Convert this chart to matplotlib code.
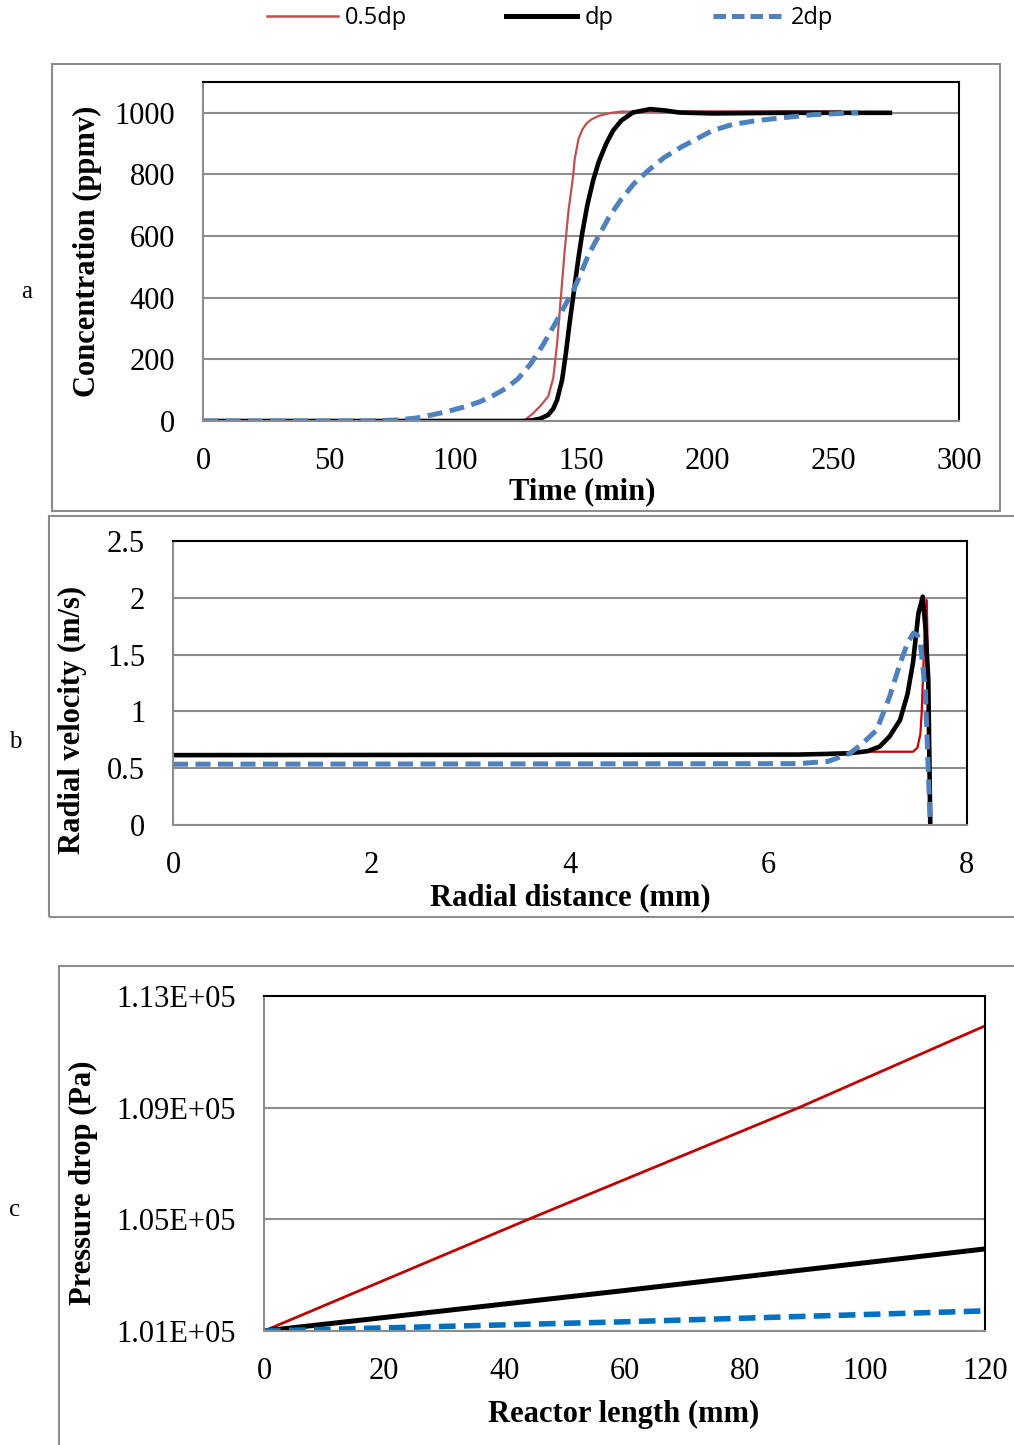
import numpy as np
import matplotlib
matplotlib.use("Agg")
import matplotlib.pyplot as plt
from matplotlib.patches import Rectangle
from matplotlib.lines import Line2D
from matplotlib.ticker import FuncFormatter

plt.rcParams['font.family'] = ['Liberation Serif', 'DejaVu Serif']

# ---- panel a: breakthrough curves
t_half = [0, 125, 128, 131, 134, 137, 139, 140.5, 142, 143.5, 145, 146.8, 147.5, 149,
          150.5, 152, 154, 157, 162, 166, 200, 253]
c_half = [0, 0, 5, 25, 50, 80, 140, 250, 400, 550, 680, 790, 850, 915,
          945, 964, 978, 990, 1000, 1004, 1005, 1005]
t_dp = [0, 128, 131, 134, 137, 139, 140.5, 142.5, 144, 145.5, 147, 149, 150.5, 152.5,
        154.8, 157, 160, 162.7, 166, 170.6, 177.4, 183, 189, 202, 230, 272.6]
c_dp = [0, 0, 3, 8, 20, 40, 68, 133, 220, 320, 410, 530, 610, 700,
        780, 840, 900, 942, 975, 1001, 1012, 1008, 1001, 998, 1000, 1000]
t_2dp = [0, 60, 70, 78, 85, 91, 98, 104.7, 110, 115, 120, 125, 130, 135, 140,
         144, 147, 150, 153, 157, 161, 166, 171, 177, 183, 190, 197, 202, 210, 220,
         230, 242, 250, 260]
c_2dp = [0, 0, 1, 4, 10, 20, 33, 48, 63, 82, 105, 137, 185, 248, 320,
         380, 425, 480, 540, 600, 660, 720, 770, 815, 855, 890, 920, 942, 962, 975,
         984, 994, 997, 1000]

# ---- panel b: radial velocity
r_half = [0, 6.3, 6.9, 7.456, 7.5, 7.53, 7.543, 7.565, 7.594, 7.61, 7.63]
v_half = [0.615, 0.62, 0.645, 0.645, 0.68, 0.8, 0.98, 1.5, 1.98, 1.3, 0]
r_dp = [0, 6.3, 6.8, 7.0, 7.12, 7.22, 7.325, 7.4, 7.456, 7.51, 7.554, 7.58, 7.61, 7.63]
v_dp = [0.615, 0.62, 0.63, 0.65, 0.69, 0.78, 0.924, 1.15, 1.43, 1.86, 2.01, 1.75, 1.28, 0]
r_2dp = [0, 6.3, 6.6, 6.82, 6.95, 7.09, 7.22, 7.325, 7.4, 7.46, 7.5, 7.53, 7.58, 7.63]
v_2dp = [0.535, 0.54, 0.56, 0.63, 0.72, 0.836, 1.13, 1.42, 1.6, 1.69, 1.67, 1.6, 1.19, 0]

# ---- panel c: pressure drop
L_half = [0, 44, 89, 120]
p_half = [101000, 105000, 109000, 111930]
L_dp = [0, 60, 120]
p_dp = [101000, 102450, 103940]
L_2dp = [0, 60, 120]
p_2dp = [101000, 101330, 101720]

W, H = 1014, 1445
fig = plt.figure(figsize=(W / 100, H / 100), dpi=100)


def fx(px):
    return px / W


def fy(py):
    return 1 - py / H


def frame(x0, y0, x1, y1):
    fig.patches.append(Rectangle((fx(x0), fy(y1)), fx(x1) - fx(x0), fy(y0) - fy(y1),
                                 transform=fig.transFigure, fill=False,
                                 edgecolor='#8c8c8c', lw=1.5))


def make_axes(l, t, r, b):
    ax = fig.add_axes([fx(l), fy(b), fx(r) - fx(l), fy(t) - fy(b)])
    for s in ['top', 'right']:
        ax.spines[s].set_color('black')
        ax.spines[s].set_linewidth(1.5)
    for s in ['left', 'bottom']:
        ax.spines[s].set_color('#8c8c8c')
        ax.spines[s].set_linewidth(1.5)
    ax.yaxis.grid(True, color='#8c8c8c', lw=1.5)
    ax.set_axisbelow(True)
    ax.tick_params(length=0, labelsize=22)
    ax.tick_params(axis='y', pad=20)
    ax.tick_params(axis='x', pad=19)
    return ax


frame(52, 64, 1000, 511)
frame(49, 516, 1016, 917)
frame(59, 966, 1016, 1447)

dash = (3, 1.5)

# panel a
ax1 = make_axes(203, 82, 959, 421)
ax1.plot(t_half, c_half, color='#c0504d', lw=1.6)
ax1.plot(t_dp, c_dp, color='black', lw=3.3)
ax1.plot(t_2dp, c_2dp, color='#4f81bd', lw=3.6, dashes=dash)
ax1.set_xlim(0, 300)
ax1.set_ylim(0, 1100)
ax1.set_xticks(np.arange(0, 301, 50))
ax1.set_yticks(np.arange(0, 1001, 200))
ax1.set_xlabel('Time (min)', fontsize=22, fontweight='bold', va='center')
ax1.xaxis.set_label_coords(0.501, -0.209)
ax1.set_ylabel('Concentration (ppmv)', fontsize=22, fontweight='bold', va='center')
ax1.yaxis.set_label_coords(-0.153, 0.5)

# panel b
ax2 = make_axes(173, 541, 967, 825)
ax2.plot(r_half, v_half, color='#cc0000', lw=1.6)
ax2.plot(r_dp, v_dp, color='black', lw=3.3)
ax2.plot(r_2dp, v_2dp, color='#4f81bd', lw=3.6, dashes=dash)
ax2.set_xlim(0, 8)
ax2.set_ylim(0, 2.5)
ax2.set_xticks(np.arange(0, 9, 2))
ax2.set_yticks([0, 0.5, 1, 1.5, 2, 2.5])
ax2.set_yticklabels(['0', '0.5', '1', '1.5', '2', '2.5'])
ax2.set_xlabel('Radial distance (mm)', fontsize=22, fontweight='bold', va='center')
ax2.xaxis.set_label_coords(0.5, -0.255)
ax2.set_ylabel('Radial velocity (m/s)', fontsize=22, fontweight='bold', va='center')
ax2.yaxis.set_label_coords(-0.126, 0.37)

# panel c
ax3 = make_axes(264, 996, 985, 1331)
ax3.plot(L_half, p_half, color='#c00000', lw=2.0)
ax3.plot(L_dp, p_dp, color='black', lw=3.6)
ax3.plot(L_2dp, p_2dp, color='#0070c0', lw=4.0, dashes=dash)
ax3.set_xlim(0, 120)
ax3.set_ylim(101000, 113000)
ax3.set_xticks(np.arange(0, 121, 20))
ax3.set_yticks([101000, 105000, 109000, 113000])
ax3.yaxis.set_major_formatter(FuncFormatter(lambda v, p: f"{v:.2E}"))
ax3.set_xlabel('Reactor length (mm)', fontsize=22, fontweight='bold', va='center')
ax3.xaxis.set_label_coords(0.499, -0.25)
ax3.set_ylabel('Pressure drop (Pa)', fontsize=22, fontweight='bold', va='center')
ax3.yaxis.set_label_coords(-0.251, 0.442)

# panel letters
fig.text(fx(27), fy(292), 'a', fontsize=18, ha='center', va='center')
fig.text(fx(15), fy(742), 'b', fontsize=18, ha='center', va='center')
fig.text(fx(15), fy(1210), 'c', fontsize=18, ha='center', va='center')

# legend
handles = [Line2D([], [], color='#c0504d', lw=1.8),
           Line2D([], [], color='black', lw=3.6),
           Line2D([], [], color='#4f81bd', lw=3.6, dashes=(2.5, 1.2))]
fig.legend(handles, ['0.5dp', 'dp', '2dp'], loc='center', ncol=3, frameon=False,
           bbox_to_anchor=(fx(550), fy(18)),
           prop={'family': 'Open Sans', 'size': 17},
           handlelength=3.0, handletextpad=0.3, columnspacing=4.2)

fig.savefig('out.png', dpi=100)
